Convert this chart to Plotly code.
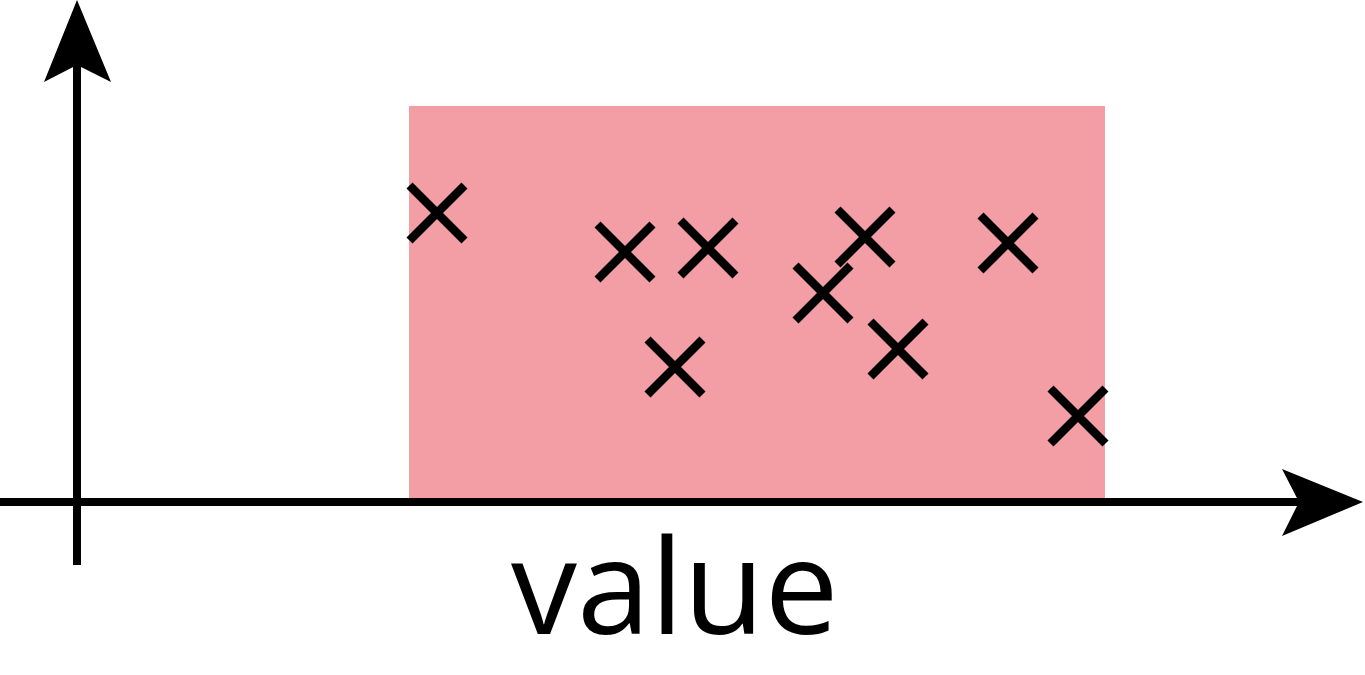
import plotly.graph_objects as go

# sample values (x = value, y = arbitrary height), origin at the axes crossing
values = [360, 548, 631, 598, 746, 788, 821, 931, 1001]
heights = [289, 250, 254, 135, 209, 265, 153, 259, 86]

# shaded interval and its height
range_lo = 332
range_hi = 1028
range_top = 396

axis_label = "value"

X_MIN, X_MAX = -77, 1288
Y_MIN, Y_MAX = -173, 502

fig = go.Figure()

fig.add_trace(go.Scatter(
    x=values,
    y=heights,
    mode="markers",
    marker=dict(symbol="x-thin", size=55, color="black",
                line=dict(color="black", width=8.5)),
    hoverinfo="skip",
    showlegend=False,
))

shapes = [
    # shaded interval
    dict(type="rect", x0=range_lo, x1=range_hi, y0=0, y1=range_top,
         fillcolor="rgb(243,158,164)", line=dict(width=0), layer="below"),
    # x axis shaft
    dict(type="line", x0=X_MIN, x1=1222, y0=0, y1=0,
         line=dict(color="black", width=8)),
    # y axis shaft
    dict(type="line", x0=0, x1=0, y0=-63, y1=437,
         line=dict(color="black", width=8)),
    # x axis arrowhead
    dict(type="path",
         path="M 1286 0 L 1205 33 L 1222 0 L 1205 -34 Z",
         fillcolor="black", line=dict(width=0)),
    # y axis arrowhead
    dict(type="path",
         path="M 0 502 L -33 420 L 0 437 L 34 420 Z",
         fillcolor="black", line=dict(width=0)),
]

fig.update_layout(
    width=1365,
    height=675,
    margin=dict(l=0, r=0, t=0, b=0),
    paper_bgcolor="white",
    plot_bgcolor="white",
    shapes=shapes,
    xaxis=dict(range=[X_MIN, X_MAX], visible=False, fixedrange=True),
    yaxis=dict(range=[Y_MIN, Y_MAX], visible=False, fixedrange=True),
    annotations=[dict(
        text=axis_label, x=598, y=0, xref="x", yref="paper",
        xanchor="center", yanchor="bottom", showarrow=False,
        font=dict(family="Open Sans", size=132, color="black"),
    )],
)

# drop the default body margin so the figure sits flush in the window
fig.write_html("out.html", config={"displayModeBar": False},
               post_script="document.body.style.margin='0';")
